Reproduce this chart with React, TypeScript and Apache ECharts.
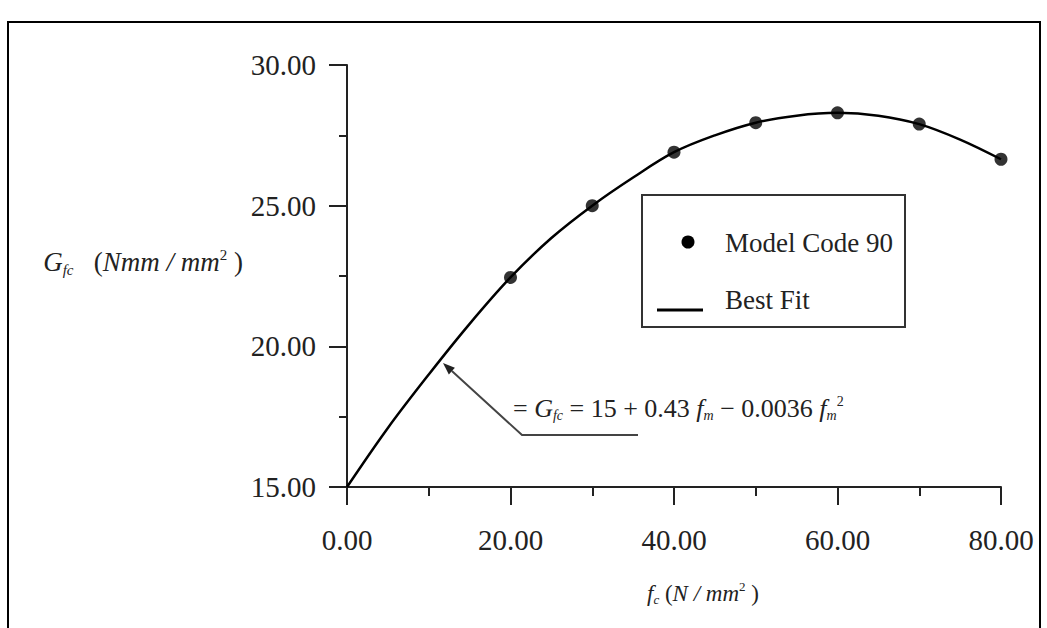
import React, { useEffect, useRef } from 'react';
import * as echarts from 'echarts';

const modelCodeX = [20, 30, 40, 50, 60, 70, 80];
const modelCodeY = [22.45, 25.0, 26.9, 27.95, 28.3, 27.9, 26.65];

const fitX = [0, 5, 10, 15, 20, 25, 30, 35, 40, 45, 50, 55, 60, 65, 70, 75, 80];
const fitY = [15.0, 17.1, 19.0, 20.8, 22.45, 23.85, 25.0, 26.0, 26.9, 27.5, 27.95, 28.2, 28.3, 28.2, 27.9, 27.35, 26.65];

const legendLabels = ['Model Code 90', 'Best Fit'];

const serif = "'Liberation Serif', 'Times New Roman', serif";
const ink = '#222';

function rich(size: number, sub: number) {
  return {
    it: { fontFamily: serif, fontStyle: 'italic', fontSize: size, fill: ink },
    rm: { fontFamily: serif, fontSize: size, fill: ink },
    sub: { fontFamily: serif, fontStyle: 'italic', fontSize: sub, fill: ink, padding: [sub, 0, 0, 0] },
    sup: { fontFamily: serif, fontSize: sub, fill: ink, padding: [0, 0, sub, 0] },
  };
}

export default function App() {
  const ref = useRef<HTMLDivElement>(null);
  useEffect(() => {
    if (!ref.current) return;
    const chart = echarts.init(ref.current, undefined, { renderer: 'svg' });
    const tip = [443, 363];
    const elbow = [522, 435];
    const dx = tip[0] - elbow[0];
    const dy = tip[1] - elbow[1];
    const len = Math.sqrt(dx * dx + dy * dy);
    const ux = dx / len, uy = dy / len;
    const hl = 12, hw = 4.5;
    const bx = tip[0] - ux * hl, by = tip[1] - uy * hl;
    const px = -uy * hw, py = ux * hw;

    chart.setOption({
      animation: false,
      backgroundColor: '#fff',
      grid: { left: 347, right: 46, top: 65, bottom: 141, containLabel: false },
      xAxis: {
        type: 'value',
        min: 0,
        max: 80,
        interval: 20,
        axisLine: { show: true, lineStyle: { color: ink, width: 2 } },
        axisTick: { show: true, length: 18, lineStyle: { color: ink, width: 2 } },
        minorTick: { show: true, splitNumber: 2, length: 9, lineStyle: { color: ink, width: 2 } },
        splitLine: { show: false },
        axisLabel: {
          margin: 38,
          fontFamily: serif,
          fontSize: 29,
          color: ink,
          formatter: (v: number) => v.toFixed(2),
        },
      },
      yAxis: {
        type: 'value',
        min: 15,
        max: 30,
        interval: 5,
        axisLine: { show: true, lineStyle: { color: ink, width: 2 } },
        axisTick: { show: true, length: 18, lineStyle: { color: ink, width: 2 } },
        minorTick: { show: true, splitNumber: 2, length: 8, lineStyle: { color: ink, width: 2 } },
        splitLine: { show: false },
        axisLabel: {
          margin: 31,
          fontFamily: serif,
          fontSize: 29,
          color: ink,
          formatter: (v: number) => v.toFixed(2),
        },
      },
      series: [
        {
          name: legendLabels[1],
          type: 'line',
          data: fitX.map((x, i) => [x, fitY[i]]),
          smooth: 0.35,
          showSymbol: false,
          lineStyle: { color: '#000', width: 2.5 },
          z: 2,
        },
        {
          name: legendLabels[0],
          type: 'scatter',
          data: modelCodeX.map((x, i) => [x, modelCodeY[i]]),
          symbol: 'circle',
          symbolSize: 13,
          itemStyle: { color: '#000' },
          z: 3,
        },
      ],
      graphic: [
        {
          type: 'rect',
          shape: { x: 8, y: 22, width: 1032, height: 640 },
          style: { fill: 'none', stroke: '#000', lineWidth: 2 },
          silent: true,
        },
        {
          type: 'rect',
          shape: { x: 642, y: 195, width: 263, height: 132 },
          style: { fill: '#fff', stroke: '#333', lineWidth: 2 },
          z: 10,
        },
        {
          type: 'circle',
          shape: { cx: 688, cy: 242, r: 6.5 },
          style: { fill: '#000' },
          z: 11,
        },
        {
          type: 'text',
          x: 725,
          y: 243,
          style: { text: legendLabels[0], font: `27px ${serif}`, fill: ink, verticalAlign: 'middle', align: 'left' },
          z: 11,
        },
        {
          type: 'line',
          shape: { x1: 657, y1: 310, x2: 703, y2: 310 },
          style: { stroke: '#000', lineWidth: 3 },
          z: 11,
        },
        {
          type: 'text',
          x: 725,
          y: 300,
          style: { text: legendLabels[1], font: `27px ${serif}`, fill: ink, verticalAlign: 'middle', align: 'left' },
          z: 11,
        },
        {
          type: 'polyline',
          shape: { points: [[638, 435], elbow, [bx, by]] },
          style: { stroke: '#444', lineWidth: 2, fill: 'none' },
          z: 11,
        },
        {
          type: 'polygon',
          shape: { points: [tip, [bx + px, by + py], [bx - px, by - py]] },
          style: { fill: '#222' },
          z: 11,
        },
        {
          type: 'text',
          x: 513,
          y: 408,
          style: {
            text: '{rm|= }{it|G}{sub|fc}{rm| = 15 + 0.43 }{it|f}{sub|m}{rm| − 0.0036 }{it|f}{sub|m}{sup|2}',
            rich: rich(26, 14),
            verticalAlign: 'middle',
            align: 'left',
          },
          z: 11,
        },
        {
          type: 'text',
          x: 243,
          y: 262,
          style: {
            text: '{it|G}{sub|fc}{rm|   (}{it|Nmm / mm}{sup|2}{rm| )}',
            rich: rich(27, 15),
            verticalAlign: 'middle',
            align: 'right',
          },
          z: 11,
        },
        {
          type: 'text',
          x: 703,
          y: 593,
          style: {
            text: '{it|f}{sub|c}{rm| (}{it|N / mm}{sup|2}{rm| )}',
            rich: rich(23, 13),
            verticalAlign: 'middle',
            align: 'center',
          },
          z: 11,
        },
      ],
    });
    return () => chart.dispose();
  }, []);
  return (
    <div
      ref={ref}
      style={{ position: 'fixed', left: 0, top: 0, width: 1047, height: 628, background: '#fff' }}
    />
  );
}
